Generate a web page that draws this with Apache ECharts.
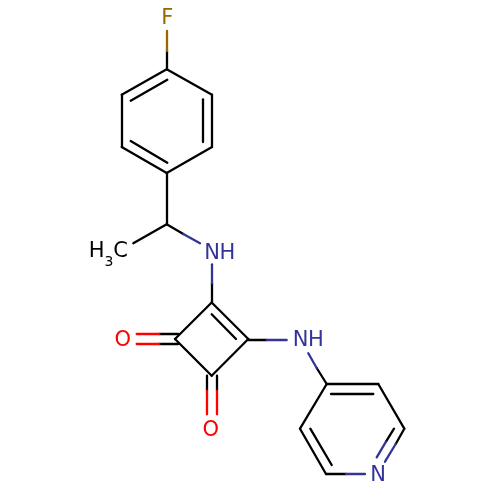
<!DOCTYPE html>
<html><head><meta charset="utf-8">
<style>html,body{margin:0;padding:0;background:#fff}#c{width:500px;height:500px}</style>
<script src="https://cdn.jsdelivr.net/npm/echarts@6/dist/echarts.min.js"></script>
</head><body><div id="c"></div>
<script>
const blackBonds = [
 [[166.7,69.3],[212,94.7]],[[212,94.7],[212,147]],[[212,147],[166.7,173]],
 [[166.7,173],[121.7,147]],[[121.7,147],[121.7,94.7]],[[121.7,94.7],[166.7,69.3]],
 [[130.7,100.7],[167.3,79.7]],[[202.3,99.3],[202.3,142]],[[130.7,141],[167.3,162.7]],
 [[166.7,69.3],[166.7,51]],[[166.7,173],[166.7,224.3]],[[166.7,224.3],[133.3,243.3]],
 [[166.7,224.3],[183.3,234]],[[211.7,283.3],[211.7,302.5]],
 [[211.7,302.5],[175,339]],[[175,339],[211.7,375.7]],[[211.7,375.7],[248.3,339]],[[248.3,339],[211.7,302.5]],
 [[211.7,314.3],[236,339]],
 [[178.3,334],[159.3,334]],[[178.3,343.7],[159.3,343.7]],
 [[207,375.7],[207,391]],[[216.7,375.7],[216.7,391]],
 [[248.3,339.3],[266.7,339.3]],[[316.7,368],[326.7,384]],
 [[326.7,384],[378.3,384]],[[378.3,384],[404.3,428.7]],[[404.3,428.7],[395.7,444]],
 [[326.7,384],[300,428.7]],[[300,428.7],[326,474]],[[326,474],[346,474]],
 [[331,393.3],[373.3,393.3]],[[310.3,428.7],[331.7,465]],[[394,428.7],[386,441.7]]
];
const blueBonds = [
 [[183.3,234],[200,243.3]],[[211.7,264.3],[211.7,283.3]],[[266.7,339.3],[286.7,339.3]],
 [[308.3,353.3],[316.7,368]],[[346,474],[365,474]],[[395.7,444],[385,461.7]],[[386,441.7],[376.7,457.3]]
];
const redBonds = [
 [[159.3,334],[136.7,334]],[[159.3,343.7],[136.7,343.7]],
 [[207,391],[207,414.3]],[[216.7,391],[216.7,414.3]]
];
const brownBonds = [[[166.7,51],[166.7,31]]];
const atomLabels = [
 ['F',167.4,19,'#996600',21],['N',212,253.5,'#333399',21],['H',227.5,253.5,'#333399',21],
 ['N',300.5,341,'#333399',21],['H',316,341,'#333399',21],['N',378,476,'#333399',21],
 ['O',122.7,341,'#FF0000',21],['O',210.7,430.5,'#FF0000',21],
 ['H',96.7,252,'#000000',21],['3',109,262,'#000000',14],['C',120.5,252,'#000000',21]
];
const bondSeries = (data,color)=>({type:'lines',coordinateSystem:'cartesian2d',silent:true,
 data:data.map(c=>({coords:c})),lineStyle:{color,width:2.3,opacity:1,cap:'round',curveness:0},symbol:'none',effect:{show:false}});
const chart = echarts.init(document.getElementById('c'),null,{renderer:'canvas'});
chart.setOption({
 animation:false,backgroundColor:'#fff',
 grid:{left:0,right:0,top:0,bottom:0},
 xAxis:{type:'value',min:0,max:500,show:false},
 yAxis:{type:'value',min:0,max:500,inverse:true,show:false},
 series:[
  bondSeries(blackBonds,'#000000'),bondSeries(blueBonds,'#333399'),
  bondSeries(redBonds,'#FF0000'),bondSeries(brownBonds,'#996600'),
  {type:'scatter',symbolSize:0,silent:true,itemStyle:{opacity:1},
   data:atomLabels.map(a=>({value:[a[1],a[2]],itemStyle:{opacity:1},label:{show:true,opacity:1,position:'inside',formatter:a[0],color:a[3],fontSize:a[4],fontFamily:'DejaVu Sans',align:'center',verticalAlign:'middle'}}))}
 ]
});
</script></body></html>
